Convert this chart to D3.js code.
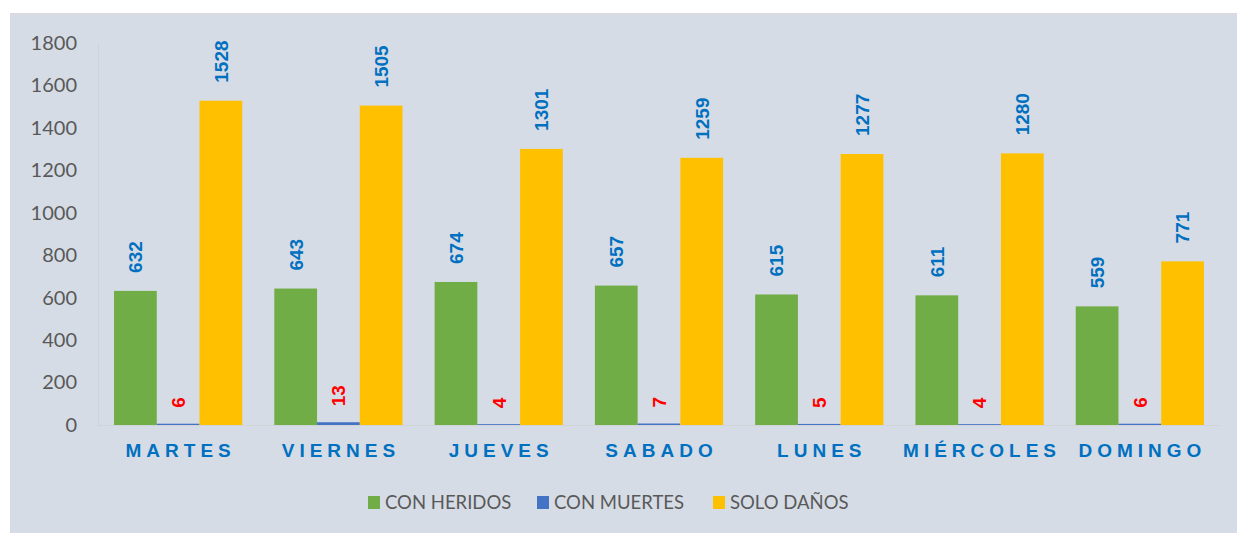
<!DOCTYPE html>
<html>
<head>
<meta charset="utf-8">
<script src="https://cdn.jsdelivr.net/npm/d3@7"></script>
<style>
  body { margin: 0; background: #ffffff; }
  svg { display: block; }
</style>
</head>
<body>
<div id="chart"></div>
<script>
// Days and the three accident types
const days = ["MARTES", "VIERNES", "JUEVES", "SABADO", "LUNES", "MIÉRCOLES", "DOMINGO"]
const seriesNames = ["CON HERIDOS", "CON MUERTES", "SOLO DAÑOS"]
const conHeridos = [632, 643, 674, 657, 615, 611, 559]
const conMuertes = [6, 13, 4, 7, 5, 4, 6]
const soloDanos = [1528, 1505, 1301, 1259, 1277, 1280, 771]
const yTicks = [0, 200, 400, 600, 800, 1000, 1200, 1400, 1600, 1800]

const colors = ["#70AD47", "#4472C4", "#FFC000"]
const labelColors = ["#0070C0", "#FF0000", "#0070C0"]

const width = 1237, height = 533
const plot = { left: 98, right: 1220, top: 43, bottom: 425 }

const svg = d3.select("#chart")
    .append("svg")
    .attr("width", width)
    .attr("height", height)

// panel background
svg.append("rect")
    .attr("x", 10.5).attr("y", 13.5)
    .attr("width", width - 10).attr("height", height - 13)
    .attr("fill", "#D6DCE5")
    .attr("stroke", "#D9D9D9")

// build rows
const data = days.map(function (d, i) {
    return { day: d, values: [conHeridos[i], conMuertes[i], soloDanos[i]] }
})

const x = d3.scaleBand()
    .domain(days)
    .range([plot.left, plot.right])
    .paddingInner(0.2)
    .paddingOuter(0.1)

const xSub = d3.scaleBand()
    .domain(d3.range(seriesNames.length))
    .range([0, x.bandwidth()])

const y = d3.scaleLinear()
    .domain([0, 1800])
    .range([plot.bottom, plot.top])

// y axis (labels only, plus faint line)
const yAxis = svg.append("g")
    .attr("transform", "translate(" + plot.left + ",0)")
    .call(d3.axisLeft(y).tickValues(yTicks).tickFormat(d3.format("d")).tickSize(0).tickPadding(21))
yAxis.select(".domain").attr("stroke", "#D0D3D8")
yAxis.selectAll("text")
    .attr("font-family", "Lato, 'Open Sans', sans-serif")
    .attr("font-size", 20)
    .attr("fill", "#595959")

// bars
const groups = svg.selectAll(".day")
    .data(data)
    .enter()
    .append("g")
    .attr("class", "day")
    .attr("transform", function (d) { return "translate(" + x(d.day) + ",0)" })

groups.selectAll("rect")
    .data(function (d) { return d.values })
    .enter()
    .append("rect")
    .attr("x", function (v, j) { return xSub(j) })
    .attr("width", xSub.bandwidth())
    .attr("y", function (v) { return y(v) })
    .attr("height", function (v) { return plot.bottom - y(v) })
    .attr("fill", function (v, j) { return colors[j] })

// baseline
svg.append("line")
    .attr("x1", plot.left).attr("x2", plot.right)
    .attr("y1", plot.bottom + 0.5).attr("y2", plot.bottom + 0.5)
    .attr("stroke", "#D0D3D8")

// value labels, rotated
groups.selectAll(".val")
    .data(function (d) { return d.values })
    .enter()
    .append("text")
    .attr("class", "val")
    .attr("transform", function (v, j) {
        const gap = j === 1 ? 16 : 18
        return "translate(" + (xSub(j) + xSub.bandwidth() / 2) + "," + (y(v) - gap) + ") rotate(-90)"
    })
    .attr("dy", "0.36em")
    .attr("text-anchor", "start")
    .attr("font-family", "'Liberation Sans', Arial, sans-serif")
    .attr("font-weight", "bold")
    .attr("font-size", 19)
    .attr("fill", function (v, j) { return labelColors[j] })
    .text(function (v) { return v })

// day labels
const spacing = 5
svg.append("g")
    .selectAll("text")
    .data(days)
    .enter()
    .append("text")
    .attr("x", function (d) { return x(d) + x.bandwidth() / 2 + spacing / 2 })
    .attr("y", 457)
    .attr("text-anchor", "middle")
    .attr("font-family", "'Liberation Sans', Arial, sans-serif")
    .attr("font-weight", "bold")
    .attr("font-size", 19)
    .attr("letter-spacing", spacing)
    .attr("fill", "#0070C0")
    .text(function (d) { return d })

// legend
const legendX = [368, 537, 713]
const legend = svg.append("g")
    .selectAll("g")
    .data(seriesNames)
    .enter()
    .append("g")
    .attr("transform", function (d, i) { return "translate(" + legendX[i] + ",496)" })
legend.append("rect")
    .attr("width", 12).attr("height", 13)
    .attr("fill", function (d, i) { return colors[i] })
legend.append("text")
    .attr("x", 17)
    .attr("y", 6.5)
    .attr("dy", "0.36em")
    .attr("font-family", "Lato, 'Open Sans', sans-serif")
    .attr("font-size", 18.5)
    .attr("fill", "#595959")
    .text(function (d) { return d })
</script>
</body>
</html>
